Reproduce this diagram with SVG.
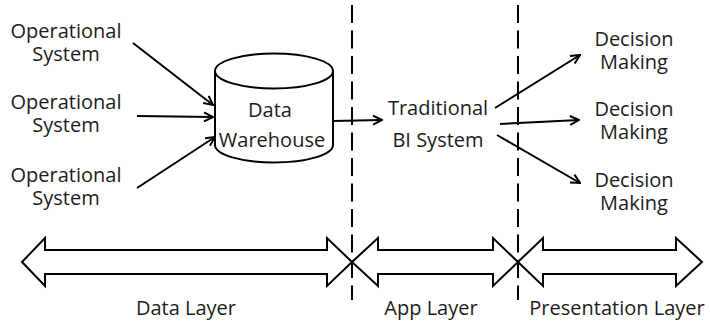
<svg xmlns="http://www.w3.org/2000/svg" width="710" height="323" viewBox="0 0 710 323">
  <style>
    .lbl { font-family: "Open Sans", "Liberation Sans", sans-serif; font-size: 20px; fill: #1c1c1c; text-anchor: middle; }
    .edge { stroke: #000; stroke-width: 2; fill: none; marker-end: url(#head); }
    .shape { stroke: #000; stroke-width: 2; fill: #fff; stroke-linejoin: miter; }
    .divider { stroke: #000; stroke-width: 2; stroke-dasharray: 18 7.5; fill: none; }
  </style>
  <defs>
    <marker id="head" viewBox="0 0 12 12" refX="11" refY="6" markerWidth="12" markerHeight="12" markerUnits="userSpaceOnUse" orient="auto">
      <path d="M2,1.5 L11,6 L2,10.5" fill="none" stroke="#000" stroke-width="2"/>
    </marker>
  </defs>
  <rect width="710" height="323" fill="#fff"/>

  <!-- layer dividers -->
  <g id="dividers">
    <line class="divider" x1="352" y1="5" x2="352" y2="300"/>
    <line class="divider" x1="518" y1="5" x2="518" y2="300"/>
  </g>

  <!-- source systems -->
  <g id="op1">
    <text class="lbl" x="66" y="38">Operational</text>
    <text class="lbl" x="66" y="61">System</text>
  </g>
  <g id="op2">
    <text class="lbl" x="66" y="109">Operational</text>
    <text class="lbl" x="66" y="132">System</text>
  </g>
  <g id="op3">
    <text class="lbl" x="66" y="182">Operational</text>
    <text class="lbl" x="66" y="205">System</text>
  </g>

  <!-- warehouse cylinder -->
  <g id="warehouse">
    <path class="shape" d="M215,71 L215,145 A59,17.5 0 0 0 333,145 L333,71"/>
    <ellipse class="shape" cx="274" cy="71" rx="59" ry="17.5"/>
    <text class="lbl" x="270" y="117">Data</text>
    <text class="lbl" x="272" y="147">Warehouse</text>
  </g>

  <!-- BI system -->
  <g id="bi">
    <text class="lbl" x="438" y="115">Traditional</text>
    <text class="lbl" x="438" y="147">BI System</text>
  </g>

  <!-- decision outputs -->
  <g id="dm1">
    <text class="lbl" x="634" y="46">Decision</text>
    <text class="lbl" x="634" y="69">Making</text>
  </g>
  <g id="dm2">
    <text class="lbl" x="634" y="116">Decision</text>
    <text class="lbl" x="634" y="139">Making</text>
  </g>
  <g id="dm3">
    <text class="lbl" x="634" y="187">Decision</text>
    <text class="lbl" x="634" y="210">Making</text>
  </g>

  <!-- data flow -->
  <g id="connectors">
    <line class="edge" x1="133" y1="43" x2="213" y2="105"/>
    <line class="edge" x1="137" y1="116" x2="213" y2="117"/>
    <line class="edge" x1="137" y1="188" x2="215" y2="137"/>
    <line class="edge" x1="332" y1="121" x2="382" y2="120"/>
    <line class="edge" x1="495" y1="108" x2="580" y2="55"/>
    <line class="edge" x1="500" y1="124" x2="579" y2="120"/>
    <line class="edge" x1="497" y1="135" x2="580" y2="183"/>
  </g>

  <!-- layer spans -->
  <g id="data-layer">
    <path class="shape" d="M22,262 L45,238 L45,250 L327,250 L327,238 L352,262 L327,286 L327,274 L45,274 L45,286 Z"/>
    <text class="lbl" x="186" y="315">Data Layer</text>
  </g>
  <g id="app-layer">
    <path class="shape" d="M352,262 L378,238 L378,250 L493,250 L493,238 L518,262 L493,286 L493,274 L378,274 L378,286 Z"/>
    <text class="lbl" x="431" y="315">App Layer</text>
  </g>
  <g id="presentation-layer">
    <path class="shape" d="M518,262 L543,238 L543,250 L676,250 L676,238 L702,262 L676,286 L676,274 L543,274 L543,286 Z"/>
    <text class="lbl" x="617" y="315">Presentation Layer</text>
  </g>
</svg>
